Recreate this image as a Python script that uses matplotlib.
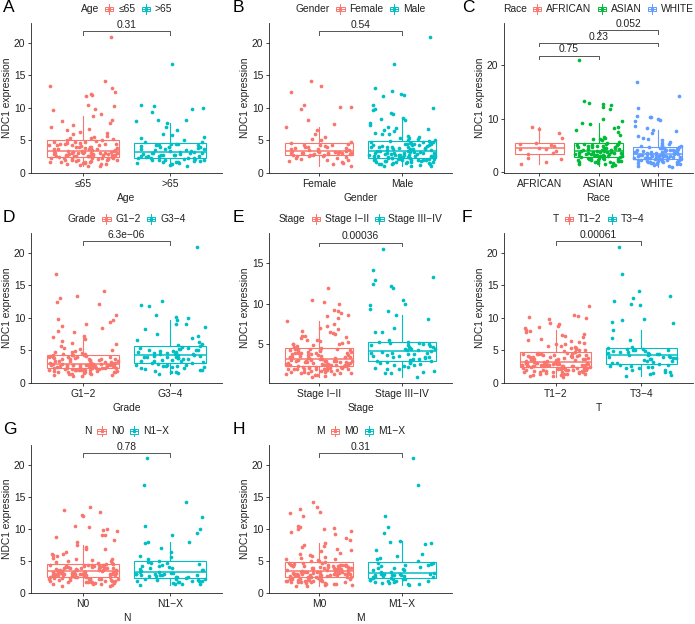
import numpy as np
import matplotlib
matplotlib.use("Agg")
import matplotlib.pyplot as plt
from matplotlib.offsetbox import AnchoredOffsetbox, HPacker, TextArea, DrawingArea
from matplotlib.patches import Rectangle
from matplotlib.lines import Line2D

plt.rcParams['font.family'] = ['Liberation Sans', 'DejaVu Sans']

# NDC1 expression values (approximate), per group
A_le65 = """1.0 1.1 1.2 1.3 1.3 1.4 1.5 1.5 1.6 1.7 1.7 1.8 1.8 1.9 1.9 2.0 2.0 2.0 2.1 2.1 2.2 2.2 2.2 2.3 2.3 2.3 2.4 2.4 1.6 2.1
2.5 2.5 2.6 2.6 2.6 2.7 2.7 2.8 2.8 2.8 2.9 2.9 2.9 3.0 3.0 3.0 3.1 3.1 3.1 3.2 3.2 3.2 3.3 3.3 2.7 2.9 3.0 3.1 2.6 3.2
3.4 3.4 3.5 3.6 3.6 3.7 3.8 3.8 3.9 4.0 4.0 4.1 4.2 4.3 4.3 4.4 4.5 4.5 4.6 4.7 4.8 4.8 4.9 5.0 3.5 3.9 4.2 4.6 3.7 4.4
5.1 5.2 5.4 5.5 5.7 5.9 6.1 6.3 6.6 6.8 7.0 7.3 7.6 7.9 8.2 8.8 9.1 9.6 9.8 10.3 10.5 11.9 12.0 12.1 12.5 13.0 13.4 14.2 21.0 5.3"""
A_gt65 = """1.0 1.2 1.3 1.4 1.5 1.6 1.7 1.7 1.8 1.9 1.9 2.0 2.0 2.1 2.1 2.2 2.2 1.5 1.8
2.3 2.3 2.4 2.5 2.5 2.6 2.7 2.7 2.8 2.8 2.9 2.9 3.0 3.0 3.1 3.1 3.2 3.2 2.6
3.3 3.4 3.5 3.6 3.6 3.7 3.8 3.9 4.0 4.0 4.1 4.2 4.3 4.3 4.4 4.5 4.5 3.5 3.9
4.7 4.8 5.0 5.3 5.5 5.8 6.0 6.6 7.0 7.6 8.0 8.1 8.2 9.3 9.8 10.0 10.3 10.5 16.8"""
B_female = """1.0 1.3 1.5 1.7 1.8 1.9 2.0 2.1 2.2 2.3 2.4 2.5 2.6 2.6 2.7 2.7
2.8 2.8 2.9 2.9 3.0 3.0 3.0 3.1 3.1 3.1 3.2 3.2 3.2 3.3 2.9 3.0
3.3 3.4 3.5 3.6 3.7 3.8 3.9 4.0 4.0 4.1 4.2 4.3 4.4 3.5 3.8 4.2
4.6 4.8 5.0 5.2 5.5 6.0 6.6 7.0 7.5 8.2 9.9 10.1 10.2 10.5 12.4 13.4 14.2"""
B_male = """1.0 1.1 1.1 1.2 1.3 1.3 1.4 1.4 1.5 1.5 1.6 1.6 1.7 1.7 1.7 1.8 1.8 1.8 1.9 1.9 1.9 2.0 2.0 2.0 2.0 2.1 2.1 2.1 2.1 2.2 2.2 2.2 1.5
2.3 2.3 2.3 2.4 2.4 2.4 2.5 2.5 2.5 2.6 2.6 2.6 2.7 2.7 2.7 2.8 2.8 2.8 2.9 2.9 2.9 3.0 3.0 3.0 3.1 3.1 3.1 3.2 3.2 3.2 3.3 3.3 2.6
3.4 3.4 3.5 3.5 3.6 3.6 3.7 3.7 3.8 3.8 3.9 3.9 4.0 4.0 4.1 4.1 4.2 4.2 4.3 4.3 4.4 4.4 4.5 4.5 4.6 4.6 4.7 4.7 4.8 4.8 4.9 4.9 3.9
5.0 5.1 5.2 5.4 5.5 5.7 5.9 6.0 6.2 6.4 6.7 6.9 7.1 7.4 7.7 8.1 8.5 9.0 9.2 9.6 9.8 10.0 10.5 11.9 12.0 12.1 12.6 13.0 16.8 21.0 5.3 6.6 8.3"""
C_african = "1.5 1.8 2.4 2.7 3.3 3.6 4.0 4.3 4.3 4.5 4.8 5.1 5.3 5.5 6.3 7.3 8.0 8.4"
C_asian = """1.1 1.3 1.4 1.5 1.6 1.7 1.8 1.9 1.9 2.0 2.1 2.1 2.2 2.3 2.3 2.4 2.4 2.5 2.5 2.6 2.6 2.7 2.0
2.8 2.8 2.9 2.9 3.0 3.0 3.1 3.1 3.2 3.2 3.3 3.3 3.4 3.4 3.5 3.5 3.6 3.6 3.7 3.7 3.8 3.8 3.0
3.9 4.0 4.0 4.1 4.2 4.3 4.3 4.4 4.5 4.5 4.6 4.7 4.8 4.8 4.9 5.0 5.0 5.1 5.2 5.2 5.3 4.1 4.6
5.5 5.7 5.9 6.1 6.4 6.6 7.0 7.4 7.8 8.3 8.5 9.0 9.2 9.6 9.9 11.7 12.2 12.5 12.7 13.0 13.3 21.0 6.2"""
C_white = """1.0 1.1 1.2 1.3 1.4 1.5 1.5 1.6 1.7 1.7 1.8 1.8 1.9 1.9 2.0 2.0 2.1 2.1 2.2 2.2 2.3 2.3 2.4 2.4 1.6
2.5 2.5 2.6 2.6 2.7 2.7 2.7 2.8 2.8 2.8 2.9 2.9 3.0 3.0 3.0 3.1 3.1 3.1 3.2 3.2 3.2 3.3 3.3 2.9 3.0
3.4 3.4 3.5 3.5 3.6 3.7 3.7 3.8 3.9 3.9 4.0 4.0 4.1 4.2 4.2 4.3 4.4 4.4 4.5 4.5 4.6 3.6 3.8 4.1 4.3
4.7 4.8 4.9 5.1 5.2 5.4 5.6 5.9 6.1 6.4 6.8 7.2 7.6 7.8 8.3 8.6 9.5 9.8 10.0 10.2 10.3 10.5 12.0 14.2 16.8"""
D_g12 = """1.0 1.1 1.2 1.2 1.3 1.4 1.4 1.5 1.5 1.6 1.6 1.7 1.7 1.8 1.8 1.8 1.9 1.9 1.9 2.0 2.0 2.0 2.1 2.1 2.1 2.2 2.2 2.2 2.2 1.6 2.0
2.3 2.3 2.3 2.4 2.4 2.4 2.5 2.5 2.5 2.6 2.6 2.6 2.6 2.7 2.7 2.7 2.7 2.8 2.8 2.8 2.8 2.9 2.9 2.9 2.9 2.9 2.5 2.6 2.7 2.8 2.4
3.0 3.0 3.1 3.1 3.2 3.2 3.3 3.3 3.4 3.4 3.5 3.5 3.6 3.6 3.7 3.7 3.8 3.8 3.9 3.9 4.0 4.0 4.1 4.1 4.2 4.2 4.3 4.3 3.3 3.6 3.9
4.4 4.5 4.6 4.7 4.8 4.9 5.0 5.2 5.4 5.6 5.9 6.2 6.5 6.8 7.0 7.2 7.8 8.0 8.5 8.8 9.0 9.3 9.7 9.8 10.5 12.1 12.4 13.0 13.3 14.2 16.8"""
D_g34 = """1.3 1.5 1.6 1.7 1.8 1.9 2.0 2.1 2.2 2.3 2.4 2.4 2.5 2.6 2.6 2.7 2.8 2.8 2.9
3.0 3.1 3.2 3.3 3.4 3.5 3.5 3.6 3.7 3.8 3.8 3.9 3.9 4.0 4.0 4.1 4.1 4.2 3.4
4.3 4.4 4.5 4.6 4.6 4.7 4.8 4.9 5.0 5.0 5.1 5.2 5.3 5.4 5.5 5.6 4.5 4.9 5.2
5.8 6.0 6.3 6.6 6.9 7.2 7.5 8.3 8.6 9.0 9.1 9.6 10.0 10.2 10.5 11.9 12.0 12.6 21.0"""
E_s12 = """0.9 1.0 1.1 1.1 1.2 1.2 1.3 1.3 1.4 1.4 1.5 1.5 1.6 1.6 1.6 1.7 1.7 1.7 1.8 1.8 1.8 1.9 1.9 1.9 2.0 2.0 2.0 2.0 2.1 2.1 2.1 1.5 1.8 2.1
2.2 2.2 2.2 2.3 2.3 2.3 2.4 2.4 2.4 2.5 2.5 2.5 2.6 2.6 2.6 2.7 2.7 2.7 2.8 2.8 2.8 2.8 2.9 2.9 2.9 2.9 3.0 3.0 3.0 2.4 2.6 2.7 2.5 2.3
3.1 3.1 3.2 3.2 3.3 3.3 3.4 3.4 3.5 3.5 3.6 3.6 3.7 3.7 3.8 3.8 3.9 3.9 4.0 4.0 4.1 4.1 4.2 4.2 4.3 4.3 4.4 4.4 4.5 3.4 3.6 3.9 4.2 3.2
4.6 4.7 4.8 4.9 5.0 5.1 5.2 5.4 5.5 5.7 5.9 6.0 6.2 6.4 6.6 6.8 7.0 7.2 7.5 7.8 8.2 8.5 8.6 8.8 9.1 9.2 9.9 10.2 10.5 11.9 5.3 5.8 6.3 4.9"""
E_s34 = """0.9 1.3 1.4 1.5 1.6 1.8 2.0 2.2 2.3 2.4 2.5 2.6 2.7 2.8 1.9 2.1 2.6 2.75
2.9 3.0 3.1 3.2 3.3 3.4 3.5 3.6 3.7 3.8 3.8 3.9 4.0 3.3 3.0 3.15 3.45 3.75
4.1 4.2 4.3 4.4 4.5 4.6 4.7 4.8 4.9 5.0 5.1 5.2 4.4 4.8 4.25 4.65 5.05 5.15
5.4 6.4 6.5 6.9 8.1 8.6 9.1 9.3 9.8 10.0 10.5 12.0 12.2 12.5 13.0 13.3 14.2 16.8"""
F_t12 = """0.9 1.0 1.1 1.2 1.2 1.3 1.3 1.4 1.4 1.5 1.5 1.6 1.6 1.7 1.7 1.7 1.8 1.8 1.8 1.9 1.9 1.9 2.0 2.0 2.0 2.1 2.1 2.1 2.2 2.2 2.2 2.3 2.3 1.6 2.0
2.4 2.4 2.4 2.5 2.5 2.5 2.6 2.6 2.6 2.7 2.7 2.7 2.8 2.8 2.8 2.8 2.9 2.9 2.9 2.9 3.0 3.0 3.0 3.0 3.1 3.1 3.1 2.5 2.6 2.7 2.8 2.9 3.0 2.6 2.9
3.2 3.2 3.3 3.3 3.4 3.4 3.5 3.5 3.6 3.6 3.7 3.7 3.8 3.8 3.9 3.9 4.0 4.0 4.1 4.1 4.2 4.2 4.3 4.3 4.4 4.4 4.5 4.5 4.6 4.6 4.7 3.5 3.8 4.1 4.4
4.8 4.9 5.0 5.1 5.2 5.3 5.4 5.6 5.7 5.9 6.0 6.2 6.4 6.6 6.8 7.0 7.2 7.5 7.8 8.0 8.2 8.5 8.6 8.8 9.0 9.2 9.9 10.0 10.2 10.3 10.5 11.9 5.5 6.3 7.3"""
F_t34 = """1.0 1.2 1.3 1.5 1.7 1.9 2.0 2.2 2.3 2.4 2.5 2.6 2.7 2.8 1.6 2.45
2.9 3.0 3.2 3.3 3.4 3.5 3.6 3.7 3.8 3.9 4.0 4.0 4.1 4.2 3.1 3.85
4.3 4.4 4.5 4.5 4.6 4.7 4.8 4.9 5.0 5.0 5.1 5.2 5.3 4.6 4.85 5.25
5.5 6.6 6.9 8.1 9.2 9.3 9.6 9.8 12.0 12.1 12.6 13.0 13.3 14.2 16.8 21.0"""
G_n0 = """1.0 1.1 1.2 1.3 1.3 1.4 1.5 1.5 1.6 1.6 1.7 1.7 1.8 1.8 1.9 1.9 2.0 2.0 2.0 2.1 2.1 2.1 2.2 2.2 2.2 2.3 2.3 2.3 2.4 2.4 2.4 1.7 2.1
2.5 2.5 2.6 2.6 2.6 2.7 2.7 2.7 2.8 2.8 2.8 2.9 2.9 2.9 3.0 3.0 3.0 3.0 3.1 3.1 3.1 3.2 3.2 3.2 3.3 3.3 3.3 3.4 3.4 2.8 3.0 3.2 2.7
3.5 3.5 3.5 3.6 3.6 3.7 3.7 3.8 3.8 3.8 3.9 3.9 4.0 4.0 4.0 4.1 4.1 4.2 4.2 4.2 4.3 4.3 4.4 4.4 4.5 4.5 3.6 3.9 4.1 4.3 3.7 4.0 4.4
4.6 4.7 4.8 4.9 5.0 5.1 5.3 5.5 5.7 5.9 6.1 6.4 6.8 7.1 7.5 7.9 8.3 8.7 9.0 9.1 9.6 9.8 10.0 10.3 10.5 12.0 12.1 12.6 13.0 13.4 5.2 6.0 6.9"""
G_n1x = """1.2 1.3 1.4 1.4 1.5 1.6 1.7 1.8 1.8 1.9 1.9 2.0 2.0 2.1 2.1 2.2
2.3 2.4 2.4 2.5 2.6 2.6 2.7 2.7 2.8 2.9 2.9 3.0 3.0 3.1 3.1 2.8
3.2 3.3 3.4 3.6 3.7 3.8 3.9 4.0 4.1 4.2 4.4 4.5 4.6 4.7 4.8 3.5
5.0 5.3 5.6 5.8 6.3 7.0 7.8 7.9 8.0 9.1 9.3 10.0 10.5 11.9 14.2 16.8 21.0"""
H_m0 = """1.0 1.1 1.2 1.2 1.3 1.4 1.4 1.5 1.5 1.6 1.6 1.7 1.7 1.8 1.8 1.8 1.9 1.9 2.0 2.0 2.0 2.1 2.1 2.1 2.2 2.2 2.2 2.3 2.3 2.3 2.4 2.4 2.4 1.6 2.0
2.5 2.5 2.6 2.6 2.6 2.7 2.7 2.7 2.8 2.8 2.8 2.9 2.9 2.9 3.0 3.0 3.0 3.0 3.1 3.1 3.1 3.2 3.2 3.2 3.3 3.3 3.3 3.4 3.4 2.7 2.9 3.1 3.2 2.6 3.0
3.5 3.5 3.6 3.6 3.7 3.7 3.8 3.8 3.9 3.9 4.0 4.0 4.1 4.1 4.2 4.2 4.3 4.3 4.4 4.4 4.5 4.5 4.6 4.6 4.7 4.7 3.6 3.8 4.0 4.2 4.4 3.7 3.9 4.1 4.3
4.8 4.9 5.0 5.1 5.2 5.4 5.6 5.8 6.0 6.2 6.5 6.8 7.1 7.5 7.8 8.2 8.5 9.2 9.5 9.7 9.9 10.0 10.1 10.2 10.5 12.0 12.4 12.6 13.1 13.4 14.2 5.3 5.9 6.6 7.3"""
H_m1x = """1.2 1.3 1.4 1.5 1.5 1.6 1.7 1.8 1.8 1.9 2.0 2.0 2.1 2.1 2.2
2.3 2.3 2.4 2.5 2.5 2.6 2.6 2.7 2.7 2.8 2.8 2.9 2.9 3.0 3.0
3.1 3.2 3.3 3.5 3.6 3.7 3.8 3.9 4.0 4.2 4.3 4.4 4.5 4.6 4.7
4.9 5.2 5.5 5.8 6.0 6.6 7.6 7.8 7.9 8.1 9.3 10.2 12.0 16.8 21.0"""

# panel letter, variable name, group labels, group data, p-values
panels = [
    ("A", "Age", ["≤65", ">65"], [A_le65, A_gt65], ["0.31"]),
    ("B", "Gender", ["Female", "Male"], [B_female, B_male], ["0.54"]),
    ("C", "Race", ["AFRICAN", "ASIAN", "WHITE"], [C_african, C_asian, C_white], ["0.75", "0.23", "0.052"]),
    ("D", "Grade", ["G1−2", "G3−4"], [D_g12, D_g34], ["6.3e−06"]),
    ("E", "Stage", ["Stage I−II", "Stage III−IV"], [E_s12, E_s34], ["0.00036"]),
    ("F", "T", ["T1−2", "T3−4"], [F_t12, F_t34], ["0.00061"]),
    ("G", "N", ["N0", "N1−X"], [G_n0, G_n1x], ["0.78"]),
    ("H", "M", ["M0", "M1−X"], [H_m0, H_m1x], ["0.31"]),
]

COLS2 = ["#F8766D", "#00BFC4"]
COLS3 = ["#F8766D", "#00BA38", "#619CFF"]

W, H = 695, 624
colx = [(31, 222), (269, 452), (504, 693)]
rowy = [(23, 173), (233, 383), (445, 593)]
FS = 7.4

fig = plt.figure(figsize=(W / 100, H / 100), dpi=100)


def legend_key(color):
    da = DrawingArea(7, 7, 0, 0)
    da.add_artist(Rectangle((0.5, 1.8), 6, 3.4, fc='white', ec=color, lw=0.7))
    da.add_artist(Line2D([0.5, 6.5], [3.5, 3.5], color=color, lw=0.7))
    da.add_artist(Line2D([3.5, 3.5], [0, 1.8], color=color, lw=0.7))
    da.add_artist(Line2D([3.5, 3.5], [5.2, 7], color=color, lw=0.7))
    da.add_artist(Line2D([3.5], [3.5], marker='o', ms=1.6, color=color, lw=0))
    return da


for k, (letter, var, labels, groups, pvals) in enumerate(panels):
    r, c = divmod(k, 3)
    x0, x1 = colx[c]
    y0, y1 = rowy[r]
    ax = fig.add_axes([x0 / W, 1 - y1 / H, (x1 - x0) / W, (y1 - y0) / H])
    cols = COLS3 if len(labels) == 3 else COLS2
    vals = [np.array(g.split(), dtype=float) for g in groups]

    for i, (v, col) in enumerate(zip(vals, cols)):
        pos = i + 1
        ax.boxplot([v], positions=[pos], widths=0.82, showfliers=False, showcaps=False,
                   patch_artist=True,
                   boxprops=dict(facecolor='white', edgecolor=col, linewidth=0.8),
                   whiskerprops=dict(color=col, linewidth=0.8),
                   medianprops=dict(color=col, linewidth=1.1), zorder=2)
        # sideways spread like geom_jitter, from a fixed hash of the point index
        idx = np.arange(len(v)) + 17 * k + 5 * i + 1
        h = np.sin(idx * 12.9898 + 78.233) * 43758.5453
        jit = (h - np.floor(h) - 0.5) * 0.8
        ax.scatter(pos + jit, v, s=7, color=col, linewidths=0, zorder=3)

    # p-value brackets
    if len(labels) == 3:
        pairs = [(1, 2), (1, 3), (2, 3)]
    else:
        pairs = [(1, 2)]
    top = max(v.max() for v in vals)
    for j, ((a, b), p) in enumerate(zip(pairs, pvals)):
        yb = top + 0.8 + j * 2.35
        tip = 0.6 if letter != "E" else 0.45
        ax.plot([a, a, b, b], [yb - tip, yb, yb, yb - tip], color='#555555', lw=0.7, clip_on=False)
        ax.text((a + b) / 2, yb + 0.25, p, ha='center', va='bottom', fontsize=FS, color='#222222')

    ax.set_xlim(0.4, len(labels) + 0.6)
    if letter == "C":
        ax.set_ylim(-0.2, 27.9)
        ax.set_yticks([0, 10, 20])
    elif letter == "E":
        ax.set_ylim(0.1, 18.8)
        ax.set_yticks([5, 10, 15])
    else:
        ax.set_ylim(-0.05, 23.1)
        ax.set_yticks([0, 5, 10, 15, 20])
    ax.set_xticks(range(1, len(labels) + 1))
    ax.set_xticklabels(labels)

    for s in ['top', 'right']:
        ax.spines[s].set_visible(False)
    for s in ['left', 'bottom']:
        ax.spines[s].set_linewidth(0.6)
        ax.spines[s].set_color('#222222')
    ax.tick_params(labelsize=FS, length=2.5, width=0.6, pad=1.5, colors='#222222')
    ax.set_xlabel(var, fontsize=FS, labelpad=3, color='#222222')
    ax.set_ylabel("NDC1 expression", fontsize=FS, labelpad=1.5, color='#222222')

    # legend on top: title then keys
    tp = dict(fontsize=FS, color='#222222')
    items = [TextArea(var, textprops=tp)]
    for lab, col in zip(labels, cols):
        items.append(HPacker(children=[legend_key(col), TextArea(lab, textprops=tp)], sep=3, pad=0, align='center'))
    box = HPacker(children=items, sep=4, pad=0, align='center')
    anc = AnchoredOffsetbox(loc='center', child=box, bbox_to_anchor=(0.5, 1 + 14 / 150),
                            bbox_transform=ax.transAxes, frameon=False, pad=0, borderpad=0)
    ax.add_artist(anc)

    fig.text((x0 - 28 if c == 0 else x0 - 36 if c == 1 else x0 - 42) / W,
             1 - (y0 - 16) / H, letter, fontsize=12.5, ha='left', va='center')

fig.savefig("out.png", dpi=100)
